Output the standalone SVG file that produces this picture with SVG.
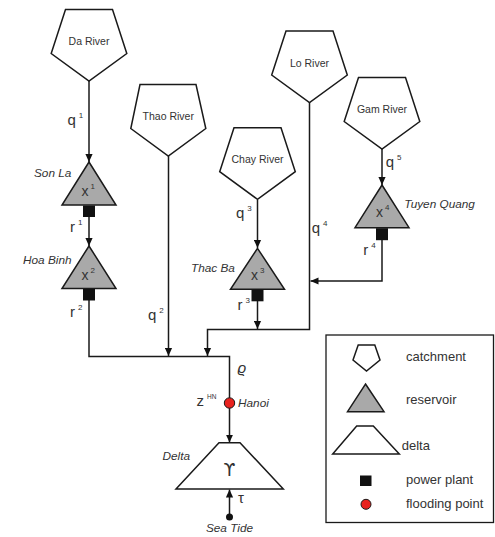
<svg xmlns="http://www.w3.org/2000/svg" width="495" height="537" viewBox="0 0 495 537">
  <style>
    .shape { fill: #fff; stroke: #1a1a1a; stroke-width: 1.5; stroke-linejoin: miter; }
    .res { fill: #a9a9a9; stroke: #1a1a1a; stroke-width: 1.5; }
    .plant { fill: #111; }
    .flood { fill: #e8221e; stroke: #1a1a1a; stroke-width: 1; }
    .wire { fill: none; stroke: #1a1a1a; stroke-width: 1.5; }
    .name { font-family: "Liberation Sans", Arial, sans-serif; font-size: 10.5px; fill: #333; text-anchor: middle; }
    .site { font-family: "Liberation Sans", Arial, sans-serif; font-size: 11.8px; font-style: italic; fill: #333; }
    .var { font-family: "Liberation Sans", Arial, sans-serif; font-size: 15px; fill: #333; }
    .vin { font-family: "Liberation Sans", Arial, sans-serif; font-size: 14px; fill: #333; }
    .sup { font-size: 8px; }
    .leg { font-family: "Liberation Sans", Arial, sans-serif; font-size: 13px; fill: #333; }
  </style>
  <defs>
    <marker id="arrow" viewBox="0 0 8 8" refX="8" refY="4" markerWidth="8" markerHeight="8" markerUnits="userSpaceOnUse" orient="auto">
      <path d="M0,0.4 L8,4 L0,7.6 Z" fill="#111"/>
    </marker>
  </defs>

  <!-- river flows and releases -->
  <g id="connectors" class="wire">
    <path d="M89,81 V162" marker-end="url(#arrow)"/>
    <path d="M89,217 V246" marker-end="url(#arrow)"/>
    <path d="M89,300 V356.5 H229.5 V442.5" marker-end="url(#arrow)"/>
    <path d="M168.5,156 V356" marker-end="url(#arrow)"/>
    <path d="M309.5,102 V329.5 H207.5 V356" marker-end="url(#arrow)"/>
    <path d="M257.5,200 V248" marker-end="url(#arrow)"/>
    <path d="M257.5,301 V329" marker-end="url(#arrow)"/>
    <path d="M382,148.5 V185" marker-end="url(#arrow)"/>
    <path d="M382,240 V281 H310.5" marker-end="url(#arrow)"/>
    <path d="M229.5,517 V489.5" marker-end="url(#arrow)"/>
  </g>

  <!-- catchments -->
  <g id="da-river">
    <polygon class="shape" points="65.5,9.5 112.5,9.5 126.8,53.5 89,81 51.2,53.5"/>
    <text class="name" x="89" y="45">Da River</text>
  </g>
  <g id="thao-river">
    <polygon class="shape" points="140,84.5 196,84.5 205.8,128.5 168.3,156 130.8,128.5"/>
    <text class="name" x="168.3" y="120">Thao River</text>
  </g>
  <g id="chay-river">
    <polygon class="shape" points="234,127.7 281,127.7 295.3,171.7 257.5,199.3 219.7,171.7"/>
    <text class="name" x="257.5" y="163">Chay River</text>
  </g>
  <g id="lo-river">
    <polygon class="shape" points="286,31 333,31 347.3,75 309.5,102.5 271.7,75"/>
    <text class="name" x="309.5" y="67">Lo River</text>
  </g>
  <g id="gam-river">
    <polygon class="shape" points="358.5,77.5 405.5,77.5 419.8,121.5 382,149 344.2,121.5"/>
    <text class="name" x="382" y="113">Gam River</text>
  </g>

  <!-- reservoirs with power plants -->
  <g id="son-la">
    <polygon class="res" points="89,162 116,205 62,205"/>
    <rect class="plant" x="83" y="205.5" width="12" height="11.5"/>
    <text class="vin" x="81.5" y="196">x<tspan class="sup" dx="2" dy="-7">1</tspan></text>
    <text class="site" x="34" y="177">Son La</text>
  </g>
  <g id="hoa-binh">
    <polygon class="res" points="89,246 116,288.5 62,288.5"/>
    <rect class="plant" x="83" y="289" width="12" height="11.5"/>
    <text class="vin" x="81.5" y="280">x<tspan class="sup" dx="2" dy="-7">2</tspan></text>
    <text class="site" x="23" y="263.5">Hoa Binh</text>
  </g>
  <g id="thac-ba">
    <polygon class="res" points="257.5,248.3 284.5,289.3 230.5,289.3"/>
    <rect class="plant" x="251.5" y="289.8" width="12" height="11.5"/>
    <text class="vin" x="251" y="280">x<tspan class="sup" dx="2" dy="-7">3</tspan></text>
    <text class="site" x="191" y="271.7">Thac Ba</text>
  </g>
  <g id="tuyen-quang">
    <polygon class="res" points="382,185 409,227.7 355,227.7"/>
    <rect class="plant" x="376" y="228.2" width="12" height="12"/>
    <text class="vin" x="376" y="217.3">x<tspan class="sup" dx="2" dy="-7">4</tspan></text>
    <text class="site" x="404.3" y="207.7">Tuyen Quang</text>
  </g>

  <!-- flow variables -->
  <g id="flow-labels">
    <text class="var" x="67.5" y="125">q<tspan class="sup" dx="3" dy="-7">1</tspan></text>
    <text class="var" x="70" y="231.7">r<tspan class="sup" dx="3" dy="-7">1</tspan></text>
    <text class="var" x="70" y="316.7">r<tspan class="sup" dx="3" dy="-7">2</tspan></text>
    <text class="var" x="148" y="320">q<tspan class="sup" dx="3" dy="-7">2</tspan></text>
    <text class="var" x="236" y="218.3">q<tspan class="sup" dx="3" dy="-7">3</tspan></text>
    <text class="var" x="237.5" y="310">r<tspan class="sup" dx="3" dy="-7">3</tspan></text>
    <text class="var" x="311.7" y="233.3">q<tspan class="sup" dx="3" dy="-7">4</tspan></text>
    <text class="var" x="363.3" y="255">r<tspan class="sup" dx="3" dy="-7">4</tspan></text>
    <text class="var" x="385.7" y="166.7">q<tspan class="sup" dx="3" dy="-7">5</tspan></text>
    <text class="var" x="237.5" y="373" font-style="italic" font-size="14">ϱ</text>
    <text class="var" x="238" y="503">τ</text>
  </g>

  <!-- Hanoi flooding point -->
  <g id="hanoi">
    <circle class="flood" cx="229.5" cy="403" r="5.2"/>
    <text class="var" x="196.5" y="406" font-size="14">z<tspan font-size="6.5" dx="3" dy="-7">HN</tspan></text>
    <text class="site" x="238" y="407">Hanoi</text>
  </g>

  <!-- delta and sea boundary -->
  <g id="delta">
    <polygon class="shape" points="219,442.7 240,442.7 283.3,489 176,489"/>
    <text x="229.5" y="476" font-family="'DejaVu Sans', sans-serif" font-size="17" fill="#333" text-anchor="middle">ϒ</text>
    <text class="site" x="162.5" y="460">Delta</text>
  </g>
  <g id="sea-tide">
    <circle cx="229.5" cy="517" r="3.5" fill="#111"/>
    <text class="site" x="229.5" y="532" font-size="11.3" text-anchor="middle">Sea Tide</text>
  </g>

  <!-- legend -->
  <g id="legend">
    <rect x="326" y="335" width="167.5" height="187.5" fill="#fff" stroke="#1a1a1a" stroke-width="1.3"/>
    <polygon class="shape" points="358.2,345 374.8,345 380,360 366.5,371 353,360"/>
    <text class="leg" x="406" y="360.7">catchment</text>
    <polygon class="res" points="365.5,384 384,411.7 347.5,411.7"/>
    <text class="leg" x="406" y="404">reservoir</text>
    <polygon class="shape" points="356.7,426 373.3,426 399.3,454 332.7,454"/>
    <text class="leg" x="401.7" y="450">delta</text>
    <rect class="plant" x="360" y="475.5" width="11.5" height="10.5"/>
    <text class="leg" x="406" y="484">power plant</text>
    <circle class="flood" cx="366" cy="504.3" r="5"/>
    <text class="leg" x="406" y="508.3">flooding point</text>
  </g>
</svg>
